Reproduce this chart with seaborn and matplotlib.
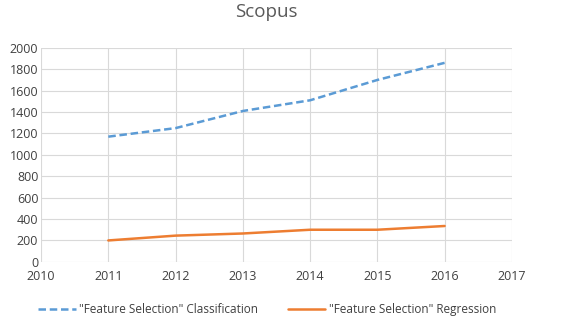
import numpy as np
import pandas as pd
import matplotlib
matplotlib.use('Agg')
import matplotlib.pyplot as plt
import seaborn as sns

# values
years = [2011, 2012, 2013, 2014, 2015, 2016]
classification = [1170, 1250, 1410, 1510, 1700, 1860]
regression = [200, 245, 265, 300, 300, 335]
series_names = ['"Feature Selection" Classification', '"Feature Selection" Regression']

data = pd.DataFrame({
    'Year': years * 2,
    'Count': classification + regression,
    'Series': [series_names[0]] * len(years) + [series_names[1]] * len(years),
})

sns.set_style('white')
plt.rcParams['font.family'] = ['Open Sans', 'DejaVu Sans']

fig = plt.figure(figsize=(5.7, 3.17), dpi=100)
ax = fig.add_axes([0.072, 0.174, 0.826, 0.675])

sns.lineplot(data=data, x='Year', y='Count', hue='Series', style='Series',
             palette=['#5B9BD5', '#ED7D31'],
             dashes={series_names[0]: (3, 1.5), series_names[1]: ''},
             linewidth=1.8, ax=ax, legend=True)

ax.set_xlim(2010, 2017)
ax.set_ylim(0, 2000)
ax.set_xticks(range(2010, 2018))
ax.set_yticks(range(0, 2001, 200))
ax.grid(True, color='#D9D9D9', linewidth=0.8)
for s in ax.spines.values():
    s.set_visible(False)
ax.tick_params(axis='both', length=0, labelsize=9, colors='#404040')
ax.tick_params(axis='y', pad=2)
ax.tick_params(axis='x', pad=6)
ax.set_xlabel('')
ax.set_ylabel('')

fig.suptitle('Scopus', x=0.468, y=0.99, fontsize=13.5, color='#595959')

ax.legend(loc='upper center', bbox_to_anchor=(0.48, -0.145), ncol=2, frameon=False,
          fontsize=8.5, labelcolor='#404040', handlelength=3.2, columnspacing=2.5,
          handletextpad=0.3)

plt.savefig('out.png', dpi=100)
